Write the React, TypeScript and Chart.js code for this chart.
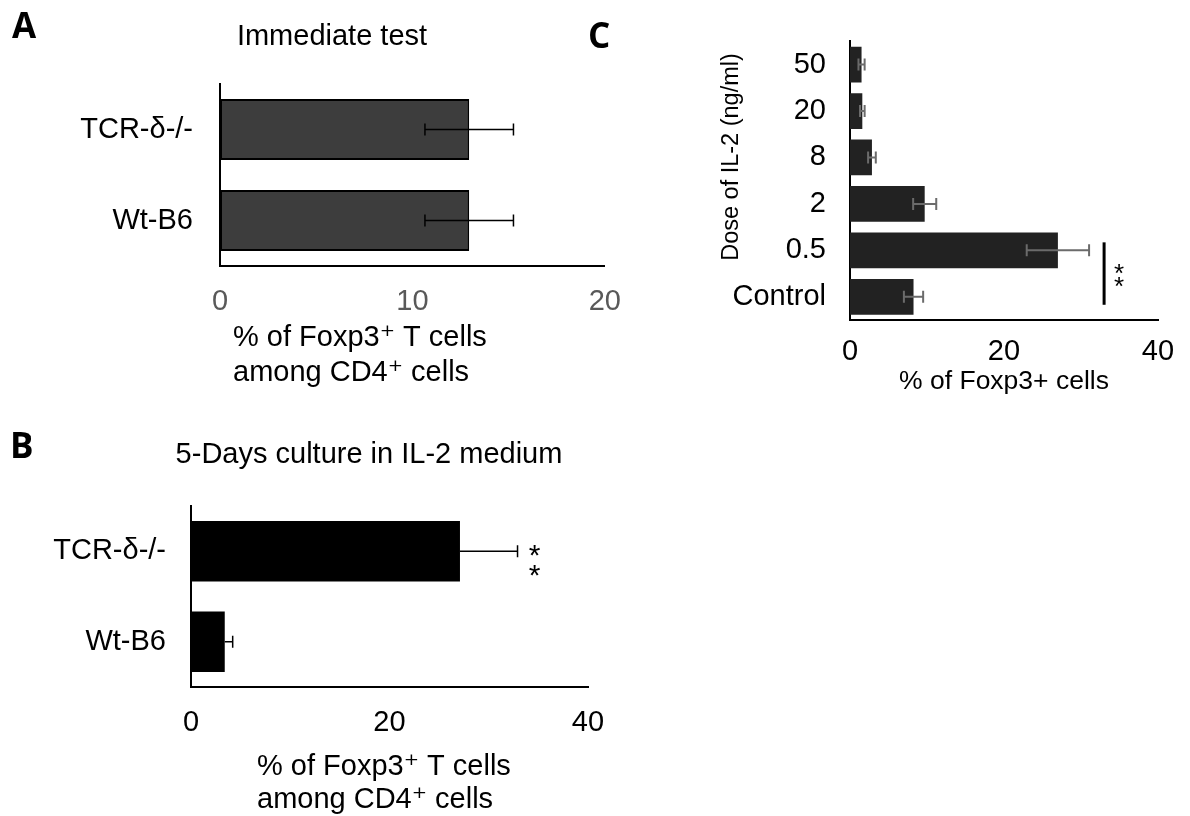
import React, { useEffect, useRef } from 'react';
import { Chart, registerables } from 'chart.js';

Chart.register(...registerables);

const FONT = '"Liberation Sans", Arial, "DejaVu Sans", sans-serif';
const LETTER_FONT = '"Open Sans", "Liberation Sans", sans-serif';

// ---------- data ----------
const groupCategories = ['TCR-δ-/-', 'Wt-B6'];
const immediateValues = [12.95, 12.95];
const immediateErrors = [2.3, 2.3];
const immediateTicks = [0, 10, 20];

const cultureValues = [27.1, 3.4];
const cultureErrors = [5.8, 0.8];
const cultureTicks = [0, 20, 40];

const doseCategories = ['50', '20', '8', '2', '0.5', 'Control'];
const doseValues = [1.5, 1.6, 2.85, 9.7, 27.0, 8.25];
const doseErrors = [0.4, 0.3, 0.5, 1.5, 4.05, 1.25];
const doseTicks = [0, 20, 40];
const doseSignificanceX = 33;

const titleA = 'Immediate test';
const titleB = '5-Days culture in IL-2 medium';
const axisTitleAB = ['% of Foxp3\u207A T cells', 'among CD4\u207A cells'];
const axisTitleCX = '% of Foxp3+ cells';
const axisTitleCY = 'Dose of IL-2 (ng/ml)';

type PanelCfg = {
  x: number; y: number; w: number; h: number;
  area: { left: number; right: number; top: number; bottom: number };
  categories: string[]; values: number[]; errors: number[]; ticks: number[];
  barColor: string; borderColor: string; borderWidth: number; barPct: number;
  errColor: string; errWidth: number; capHalf: number; oneSided: boolean;
  tickColor: string; tickFont: number; xTickPad: number; yTickPad: number; catFont: number;
  annotate: (ctx: CanvasRenderingContext2D, chart: any) => void;
};

function drawStar(ctx: CanvasRenderingContext2D, x: number, yc: number, size: number) {
  ctx.save();
  ctx.font = `${size}px ${FONT}`;
  ctx.fillStyle = '#000';
  ctx.textAlign = 'center';
  ctx.textBaseline = 'alphabetic';
  ctx.fillText('*', x, yc + 0.58 * size);
  ctx.restore();
}

function text(ctx: CanvasRenderingContext2D, s: string, x: number, y: number, font: string, align: CanvasTextAlign = 'left', color = '#000') {
  ctx.save();
  ctx.font = font;
  ctx.fillStyle = color;
  ctx.textAlign = align;
  ctx.textBaseline = 'middle';
  ctx.fillText(s, x, y);
  ctx.restore();
}

function letter(ctx: CanvasRenderingContext2D, s: string, x: number, baseline: number) {
  ctx.save();
  ctx.font = `bold 35px ${LETTER_FONT}`;
  ctx.fillStyle = '#000';
  ctx.textAlign = 'left';
  ctx.textBaseline = 'alphabetic';
  ctx.fillText(s, x, baseline);
  ctx.restore();
}

const panelA: PanelCfg = {
  x: 0, y: 0, w: 640, h: 400,
  area: { left: 220, right: 609, top: 84, bottom: 266 },
  categories: groupCategories, values: immediateValues, errors: immediateErrors, ticks: immediateTicks,
  barColor: '#3d3d3d', borderColor: '#000', borderWidth: 2, barPct: 0.67,
  errColor: '#000', errWidth: 1.5, capHalf: 6, oneSided: false,
  tickColor: '#595959', tickFont: 29, xTickPad: 19, yTickPad: 27, catFont: 29,
  annotate: (ctx) => {
    letter(ctx, 'A', 12, 38);
    text(ctx, titleA, 332, 37, `29px ${FONT}`, 'center');
    text(ctx, axisTitleAB[0], 233, 338, `29px ${FONT}`);
    text(ctx, axisTitleAB[1], 233, 373, `29px ${FONT}`);
  },
};

const panelB: PanelCfg = {
  x: 0, y: 420, w: 640, h: 396,
  area: { left: 191, right: 588, top: 86, bottom: 267 },
  categories: groupCategories, values: cultureValues, errors: cultureErrors, ticks: cultureTicks,
  barColor: '#000', borderColor: '#000', borderWidth: 0, barPct: 0.67,
  errColor: '#000', errWidth: 1.5, capHalf: 6, oneSided: true,
  tickColor: '#000', tickFont: 29, xTickPad: 19, yTickPad: 25, catFont: 29,
  annotate: (ctx, chart) => {
    letter(ctx, 'B', 10, 38);
    text(ctx, titleB, 369, 35, `29px ${FONT}`, 'center');
    text(ctx, axisTitleAB[0], 257, 347, `29px ${FONT}`);
    text(ctx, axisTitleAB[1], 257, 380, `29px ${FONT}`);
    const meta = chart.getDatasetMeta(0);
    const xs = chart.scales.x;
    const xe = xs.getPixelForValue(cultureValues[0] + cultureErrors[0]) + 17;
    const yc = meta.data[0].y;
    drawStar(ctx, xe, yc - 4, 30);
    drawStar(ctx, xe, yc + 16, 30);
  },
};

const panelC: PanelCfg = {
  x: 580, y: 0, w: 610, h: 400,
  area: { left: 270, right: 578, top: 33, bottom: 320 },
  categories: doseCategories, values: doseValues, errors: doseErrors, ticks: doseTicks,
  barColor: '#222222', borderColor: '#222222', borderWidth: 0, barPct: 0.77,
  errColor: '#6b6b6b', errWidth: 2, capHalf: 6, oneSided: false,
  tickColor: '#000', tickFont: 29, xTickPad: 15, yTickPad: 24, catFont: 29,
  annotate: (ctx, chart) => {
    letter(ctx, 'C', 8, 48);
    const ca = chart.chartArea;
    text(ctx, axisTitleCX, (ca.left + ca.right) / 2, 382, `26.5px ${FONT}`, 'center');
    ctx.save();
    ctx.translate(152, 157);
    ctx.rotate(-Math.PI / 2);
    text(ctx, axisTitleCY, 0, 0, `23.5px ${FONT}`, 'center');
    ctx.restore();
    const meta = chart.getDatasetMeta(0);
    const xs = chart.scales.x;
    const xl = xs.getPixelForValue(doseSignificanceX);
    const y1 = meta.data[4].y - 8;
    const y2 = meta.data[5].y + 8;
    ctx.save();
    ctx.strokeStyle = '#000';
    ctx.lineWidth = 3;
    ctx.beginPath();
    ctx.moveTo(xl, y1);
    ctx.lineTo(xl, y2);
    ctx.stroke();
    ctx.restore();
    const ym = (y1 + y2) / 2;
    drawStar(ctx, xl + 15, ym - 7, 26);
    drawStar(ctx, xl + 15, ym + 6, 26);
  },
};

function Panel({ cfg }: { cfg: PanelCfg }) {
  const ref = useRef<HTMLCanvasElement>(null);
  useEffect(() => {
    const canvas = ref.current!;
    const errorPlugin = {
      id: 'errorBarsLocal',
      afterDatasetsDraw(chart: any) {
        const ctx: CanvasRenderingContext2D = chart.ctx;
        const meta = chart.getDatasetMeta(0);
        const xs = chart.scales.x;
        ctx.save();
        ctx.strokeStyle = cfg.errColor;
        ctx.lineWidth = cfg.errWidth;
        cfg.values.forEach((v, i) => {
          const e = cfg.errors[i];
          const y = meta.data[i].y;
          const lo = xs.getPixelForValue(cfg.oneSided ? v : v - e);
          const hi = xs.getPixelForValue(v + e);
          ctx.beginPath();
          ctx.moveTo(lo, y);
          ctx.lineTo(hi, y);
          ctx.moveTo(hi, y - cfg.capHalf);
          ctx.lineTo(hi, y + cfg.capHalf);
          if (!cfg.oneSided) {
            ctx.moveTo(lo, y - cfg.capHalf);
            ctx.lineTo(lo, y + cfg.capHalf);
          }
          ctx.stroke();
        });
        ctx.restore();
      },
      afterDraw(chart: any) {
        cfg.annotate(chart.ctx, chart);
      },
    };
    const chart = new Chart(canvas, {
      type: 'bar',
      data: {
        labels: cfg.categories,
        datasets: [
          {
            data: cfg.values,
            backgroundColor: cfg.barColor,
            borderColor: cfg.borderColor,
            borderWidth: cfg.borderWidth,
            borderSkipped: false,
            barPercentage: cfg.barPct,
            categoryPercentage: 1,
          },
        ],
      },
      options: {
        indexAxis: 'y',
        animation: false,
        responsive: false,
        events: [],
        layout: {
          padding: { left: 0, top: cfg.area.top, right: cfg.w - cfg.area.right, bottom: 0 },
        },
        plugins: { legend: { display: false }, tooltip: { enabled: false }, title: { display: false } },
        scales: {
          x: {
            type: 'linear',
            min: cfg.ticks[0],
            max: cfg.ticks[cfg.ticks.length - 1],
            afterBuildTicks: (scale: any) => {
              scale.ticks = cfg.ticks.map((v) => ({ value: v }));
            },
            afterFit: (scale: any) => {
              scale.height = cfg.h - cfg.area.bottom;
            },
            grid: { display: false, drawTicks: false },
            border: { display: true, color: '#000', width: 2 },
            ticks: {
              color: cfg.tickColor,
              padding: cfg.xTickPad,
              font: { family: FONT, size: cfg.tickFont },
              maxRotation: 0,
              autoSkip: false,
            },
          },
          y: {
            type: 'category',
            afterFit: (scale: any) => {
              scale.width = cfg.area.left;
            },
            grid: { display: false, drawTicks: false },
            border: { display: true, color: '#000', width: 2 },
            ticks: {
              color: '#000',
              padding: cfg.yTickPad,
              font: { family: FONT, size: cfg.catFont },
              autoSkip: false,
            },
          },
        },
      } as any,
      plugins: [errorPlugin],
    });
    return () => chart.destroy();
  }, [cfg]);
  return (
    <canvas
      ref={ref}
      width={cfg.w}
      height={cfg.h}
      style={{ position: 'absolute', left: cfg.x, top: cfg.y, width: cfg.w, height: cfg.h }}
    />
  );
}

export default function App() {
  return (
    <div style={{ position: 'absolute', left: 0, top: 0, width: 1190, height: 816, background: '#fff', overflow: 'hidden' }}>
      <Panel cfg={panelA} />
      <Panel cfg={panelB} />
      <Panel cfg={panelC} />
    </div>
  );
}
